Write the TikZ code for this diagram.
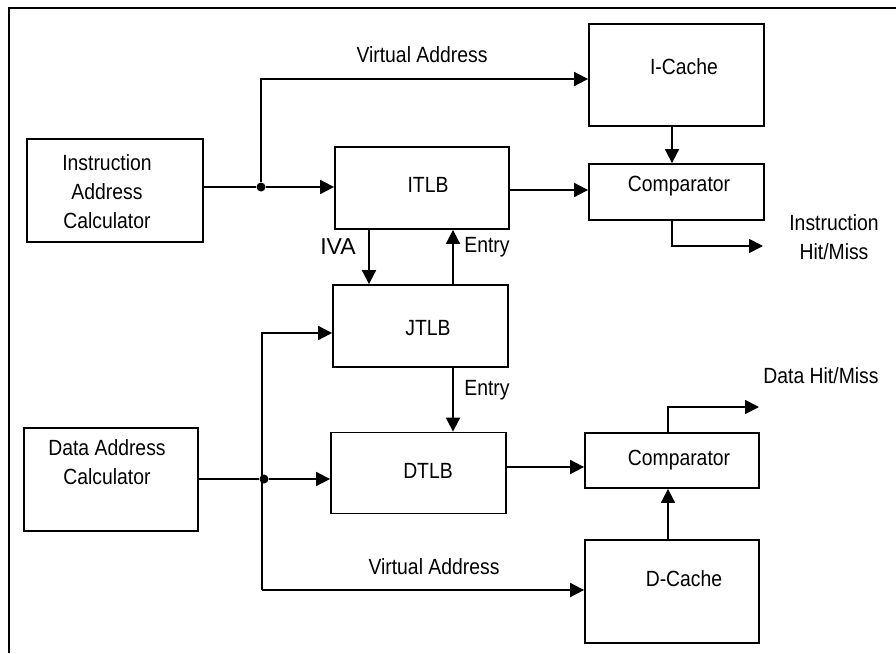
\documentclass[tikz,border=0pt]{standalone}
\usepackage{fontspec}
\setmainfont[FakeStretch=0.88]{Liberation Sans}
\newfontfamily\widefont{Liberation Sans}
\usetikzlibrary{arrows.meta}
\begin{document}
\begin{tikzpicture}[x=1pt,y=-1pt,
  blk/.style={draw, line width=1.8pt, inner sep=0pt, rectangle},
  conn/.style={line width=1.8pt, -{Triangle[length=14pt,width=14pt]}},
  wire/.style={line width=1.8pt},
  txt/.style={font=\fontsize{22}{29}\selectfont, inner sep=0pt, align=center},
  dotnode/.style={circle, fill, inner sep=0pt, minimum size=9pt}]
\useasboundingbox (0,0) rectangle (896,653);
\draw[line width=2.5pt] (9,653) -- (9,8) -- (896,8);

% boxes
\node[blk, minimum width=176pt, minimum height=103pt] (iac) at (115,190.5) {};
\node[blk, minimum width=175pt, minimum height=102pt] (icache) at (676.5,75) {};
\node[blk, minimum width=174pt, minimum height=82pt] (itlb) at (422,188) {};
\node[blk, minimum width=175pt, minimum height=56pt] (compi) at (676.5,192) {};
\node[blk, minimum width=175pt, minimum height=82pt] (jtlb) at (420.5,326) {};
\node[blk, minimum width=174pt, minimum height=103pt] (dac) at (111,479.5) {};
\node[blk, minimum width=175pt, minimum height=81pt] (dtlb) at (418.5,473) {};
\node[blk, minimum width=174pt, minimum height=55pt] (compd) at (672,460.5) {};
\node[blk, minimum width=174pt, minimum height=103pt] (dcache) at (672,591.5) {};

% box texts
\node[txt] (tiac) at (107,192) {Instruction\\Address\\Calculator};
\node[txt] (ticache) at (684,67) {I-Cache};
\node[txt] (titlb) at (428,185) {ITLB};
\node[txt] (tcompi) at (679,186) {Comparator};
\node[txt] (tjtlb) at (428,328) {JTLB};
\node[txt] (tdac) at (107,462) {Data Address\\Calculator};
\node[txt] (tdtlb) at (428,471) {DTLB};
\node[txt] (tcompd) at (679,460) {Comparator};
\node[txt] (tdcache) at (684,579) {D-Cache};

% labels
\node[txt] (va1) at (422,55) {Virtual Address};
\node[txt] (va2) at (434,567) {Virtual Address};
\node[txt, font=\widefont\fontsize{23}{29}\selectfont] (iva) at (338,247) {IVA};
\node[txt] (entry1) at (487,247) {Entry};
\node[txt] (entry2) at (487,390) {Entry};
\node[txt] (ihm) at (834,237) {Instruction\\Hit/Miss};
\node[txt] (dhm) at (821,376) {Data Hit/Miss};

% junctions
\node[dotnode] (j1) at (261,187) {};
\node[dotnode] (j2) at (264,479) {};
\coordinate (iout) at (763,246);
\coordinate (dout) at (759,407);

% connectors instruction side
\draw[wire] (iac.east |- j1) -- (j1);
\draw[conn] (j1) -- (itlb.west |- j1);
\draw[conn] (j1) -- (261,79) -- (icache.west |- 0,79);
\draw[conn] (icache.south -| 672,0) -- (compi.north -| 672,0);
\draw[conn] (itlb.east |- 0,190) -- (compi.west |- 0,190);
\draw[conn] (compi.south -| 672,0) -- (672,246) -- (iout);
\draw[conn] (itlb.south -| 369,0) -- (jtlb.north -| 369,0);
\draw[conn] (jtlb.north -| 453,0) -- (itlb.south -| 453,0);
\draw[conn] (jtlb.south -| 453,0) -- (dtlb.north -| 453,0);

% connectors data side
\draw[wire] (dac.east |- j2) -- (j2);
\draw[conn] (j2) -- (dtlb.west |- j2);
\draw[conn] (262,590) -- (262,333) -- (jtlb.west |- 0,333);
\draw[conn] (262,590) -- (dcache.west |- 0,590);
\draw[conn] (dtlb.east |- 0,467) -- (compd.west |- 0,467);
\draw[conn] (dcache.north -| 668,0) -- (compd.south -| 668,0);
\draw[conn] (compd.north -| 668,0) -- (668,407) -- (dout);
\end{tikzpicture}
\end{document}
